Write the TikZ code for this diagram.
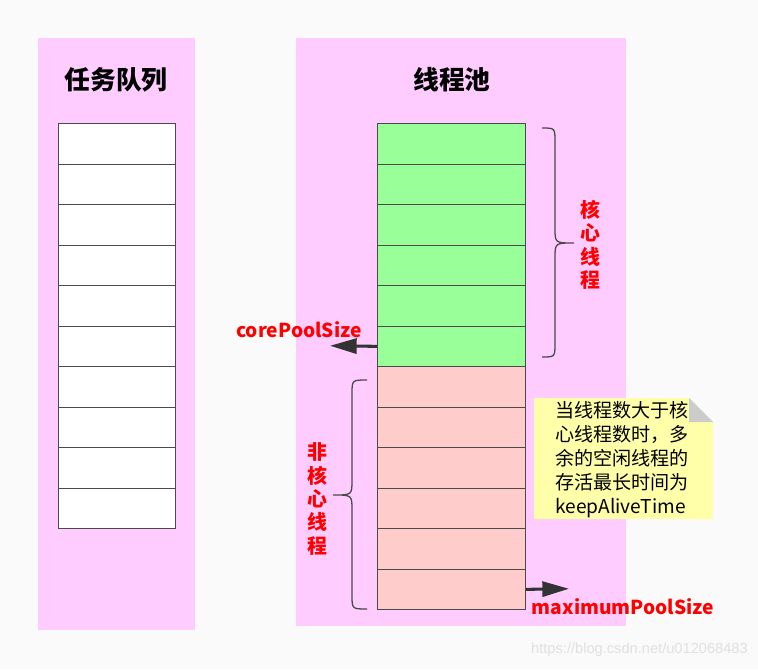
\documentclass[tikz,border=0pt]{standalone}
\usepackage{fontspec}
\newfontfamily\cjk{Noto Sans CJK SC}
\newfontfamily\wmfont{Liberation Sans}
\usetikzlibrary{arrows.meta}

\definecolor{pagebg}{HTML}{FAFAFA}
\definecolor{panelpink}{HTML}{FFCCFF}
\definecolor{coregreen}{HTML}{99FF99}
\definecolor{extrapink}{HTML}{FFCCCC}
\definecolor{cellline}{HTML}{4A4A4A}
\definecolor{notefill}{HTML}{FFFFAA}
\definecolor{foldgray}{HTML}{CCCCCC}
\definecolor{arrowdark}{HTML}{333333}

\begin{document}
\begin{tikzpicture}[x=0.03cm, y=-0.03cm, font=\cjk,
  cell/.style={draw=cellline, line width=1pt, inner sep=0pt, anchor=north west,
    minimum height=1.215cm},
  title/.style={font=\cjk\bfseries\fontsize{22}{26}\selectfont},
  redlabel/.style={text=red, font=\cjk\bfseries\fontsize{16.4}{20}\selectfont, align=center, inner sep=0pt},
  sizearrow/.style={draw=arrowdark, line width=2.6pt, -{Triangle[length=0.8cm, width=0.45cm]}},
  bracepath/.style={draw=cellline, line width=1.1pt}]

\useasboundingbox[fill=pagebg] (0,0) rectangle (758,669);

% panels
\fill[panelpink] (38,38) rectangle (195,630);
\fill[panelpink] (296,38) rectangle (626,626);
\node[title] (queuetitle) at (116,80) {任务队列};
\node[title] (pooltitle) at (452,80) {线程池};

% task queue
\foreach \i in {1,...,10}
  \node[cell, fill=white, minimum width=3.51cm] (q\i) at (58,{123+(\i-1)*40.5}) {};

% core threads
\foreach \i in {1,...,6}
  \node[cell, fill=coregreen, minimum width=4.44cm] (g\i) at (377,{123+(\i-1)*40.5}) {};

% non-core threads
\foreach \i in {1,...,6}
  \node[cell, fill=extrapink, minimum width=4.44cm] (n\i) at (377,{366+(\i-1)*40.5}) {};

% braces
\draw[bracepath] (542,128) .. controls (555,128) .. (555,142) -- (555,228)
  .. controls (555,243) .. (574,243) .. controls (555,243) .. (555,258)
  -- (555,343) .. controls (555,357) .. (542,357);
\draw[bracepath] (367,380) .. controls (352,380) .. (352,394) -- (352,480)
  .. controls (352,495) .. (333,495) .. controls (352,495) .. (352,510)
  -- (352,595) .. controls (352,609) .. (367,609);
\node[redlabel, font=\cjk\bfseries\fontsize{17}{20}\selectfont] (corelabel) at (590,245) {核\\心\\线\\程};
\node[redlabel, font=\cjk\bfseries\fontsize{17}{20}\selectfont] (extralabel) at (317,499) {非\\核\\心\\线\\程};

% size arrows
\path
(330,345.75) coordinate (coreend)
(569,588.75) coordinate (maxend)
;
\draw[sizearrow] (g6.west) -- (coreend);
\draw[sizearrow] (n6.east) -- (maxend);
\node[redlabel] (corepool) at (299,330) {corePoolSize};
\node[redlabel] (maxpool) at (623,607) {maximumPoolSize};

% note
\fill[notefill] (534,398) -- (689,398) -- (713,422) -- (713,519) -- (534,519) -- cycle;
\fill[foldgray] (689,398) -- (713,422) -- (689,422) -- cycle;
\node[anchor=north west, inner sep=0pt, align=left,
  font=\cjk\fontsize{16.3}{20.6}\selectfont] (note) at (555,401)
  {当线程数大于核\\心线程数时，多\\余的空闲线程的\\存活最长时间为\\keepAliveTime};

% watermark
\node[text=black!12, font=\wmfont\fontsize{12.5}{15}\selectfont, anchor=east, inner sep=0pt]
  (mark) at (748,650) {https://blog.csdn.net/u012068483};

\end{tikzpicture}
\end{document}
